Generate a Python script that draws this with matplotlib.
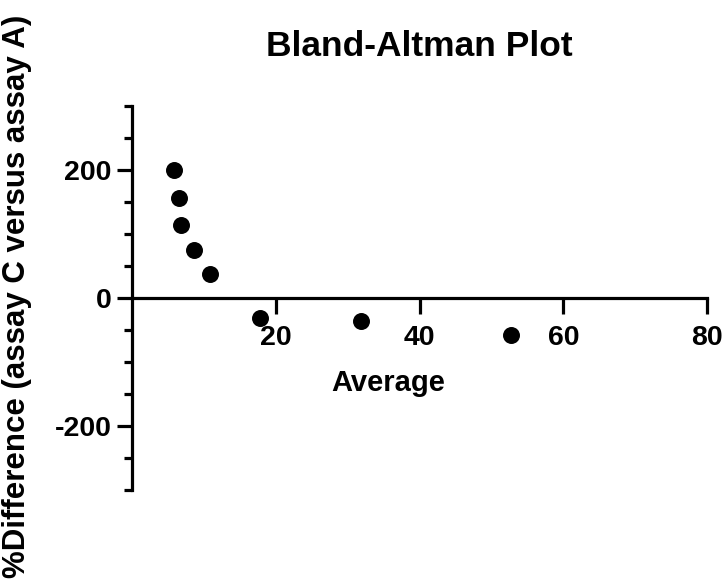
import matplotlib
matplotlib.use('Agg')
import matplotlib.pyplot as plt
from matplotlib.ticker import MultipleLocator, FixedLocator

# Data
average = [5.8, 6.55, 6.8, 8.55, 10.8, 17.8, 31.8, 52.7]
pct_difference = [200, 155, 114, 74, 37, -32, -37, -59]

x_ticks = [20, 40, 60, 80]
y_ticks = [-200, 0, 200]

title = 'Bland-Altman Plot'
x_label = 'Average'
y_label = '%Difference (assay C versus assay A)'

plt.rcParams['font.family'] = ['Liberation Sans', 'DejaVu Sans']
plt.rcParams['font.weight'] = 'bold'
plt.rcParams['axes.unicode_minus'] = False  # plain hyphen like the reference

fig = plt.figure(figsize=(7.24, 5.84), dpi=100)
ax = fig.add_axes([0.1827, 0.1615, 0.7938, 0.6575])

# Scatter of the points
ax.plot(average, pct_difference, 'o', color='black', markersize=11.2, clip_on=False)

ax.set_xlim(0, 80)
ax.set_ylim(-300, 300)

# Prism-like axes: x axis crosses at y = 0, y axis at x = 0
for side in ['top', 'right']:
    ax.spines[side].set_visible(False)
ax.spines['bottom'].set_position(('data', 0))
ax.spines['left'].set_position(('data', 0))
for side in ['bottom', 'left']:
    ax.spines[side].set_linewidth(2.3)

ax.xaxis.set_major_locator(FixedLocator(x_ticks))
ax.yaxis.set_major_locator(FixedLocator(y_ticks))
ax.yaxis.set_minor_locator(MultipleLocator(50))

ax.tick_params(axis='x', which='major', direction='out', length=11.5, width=2.3,
               labelsize=20.5, pad=8)
ax.tick_params(axis='y', which='major', direction='out', length=10.8, width=2.3,
               labelsize=20.5, pad=4)
ax.tick_params(axis='y', which='minor', direction='out', length=5.8, width=2.3)

for lbl in ax.get_xticklabels() + ax.get_yticklabels():
    lbl.set_fontweight('bold')

# Labels and title
ax.set_xlabel(x_label, fontsize=21, fontweight='bold', va='center')
ax.xaxis.set_label_coords(0.445, 0.277)
ax.set_ylabel(y_label, fontsize=22.5, fontweight='bold', va='center')
ax.yaxis.set_label_coords(-0.2006, 0.504)
ax.text(0.5, 1.153, title, transform=ax.transAxes, ha='center', va='center',
        fontsize=25.5, fontweight='bold')

fig.savefig('out.png', dpi=100)
